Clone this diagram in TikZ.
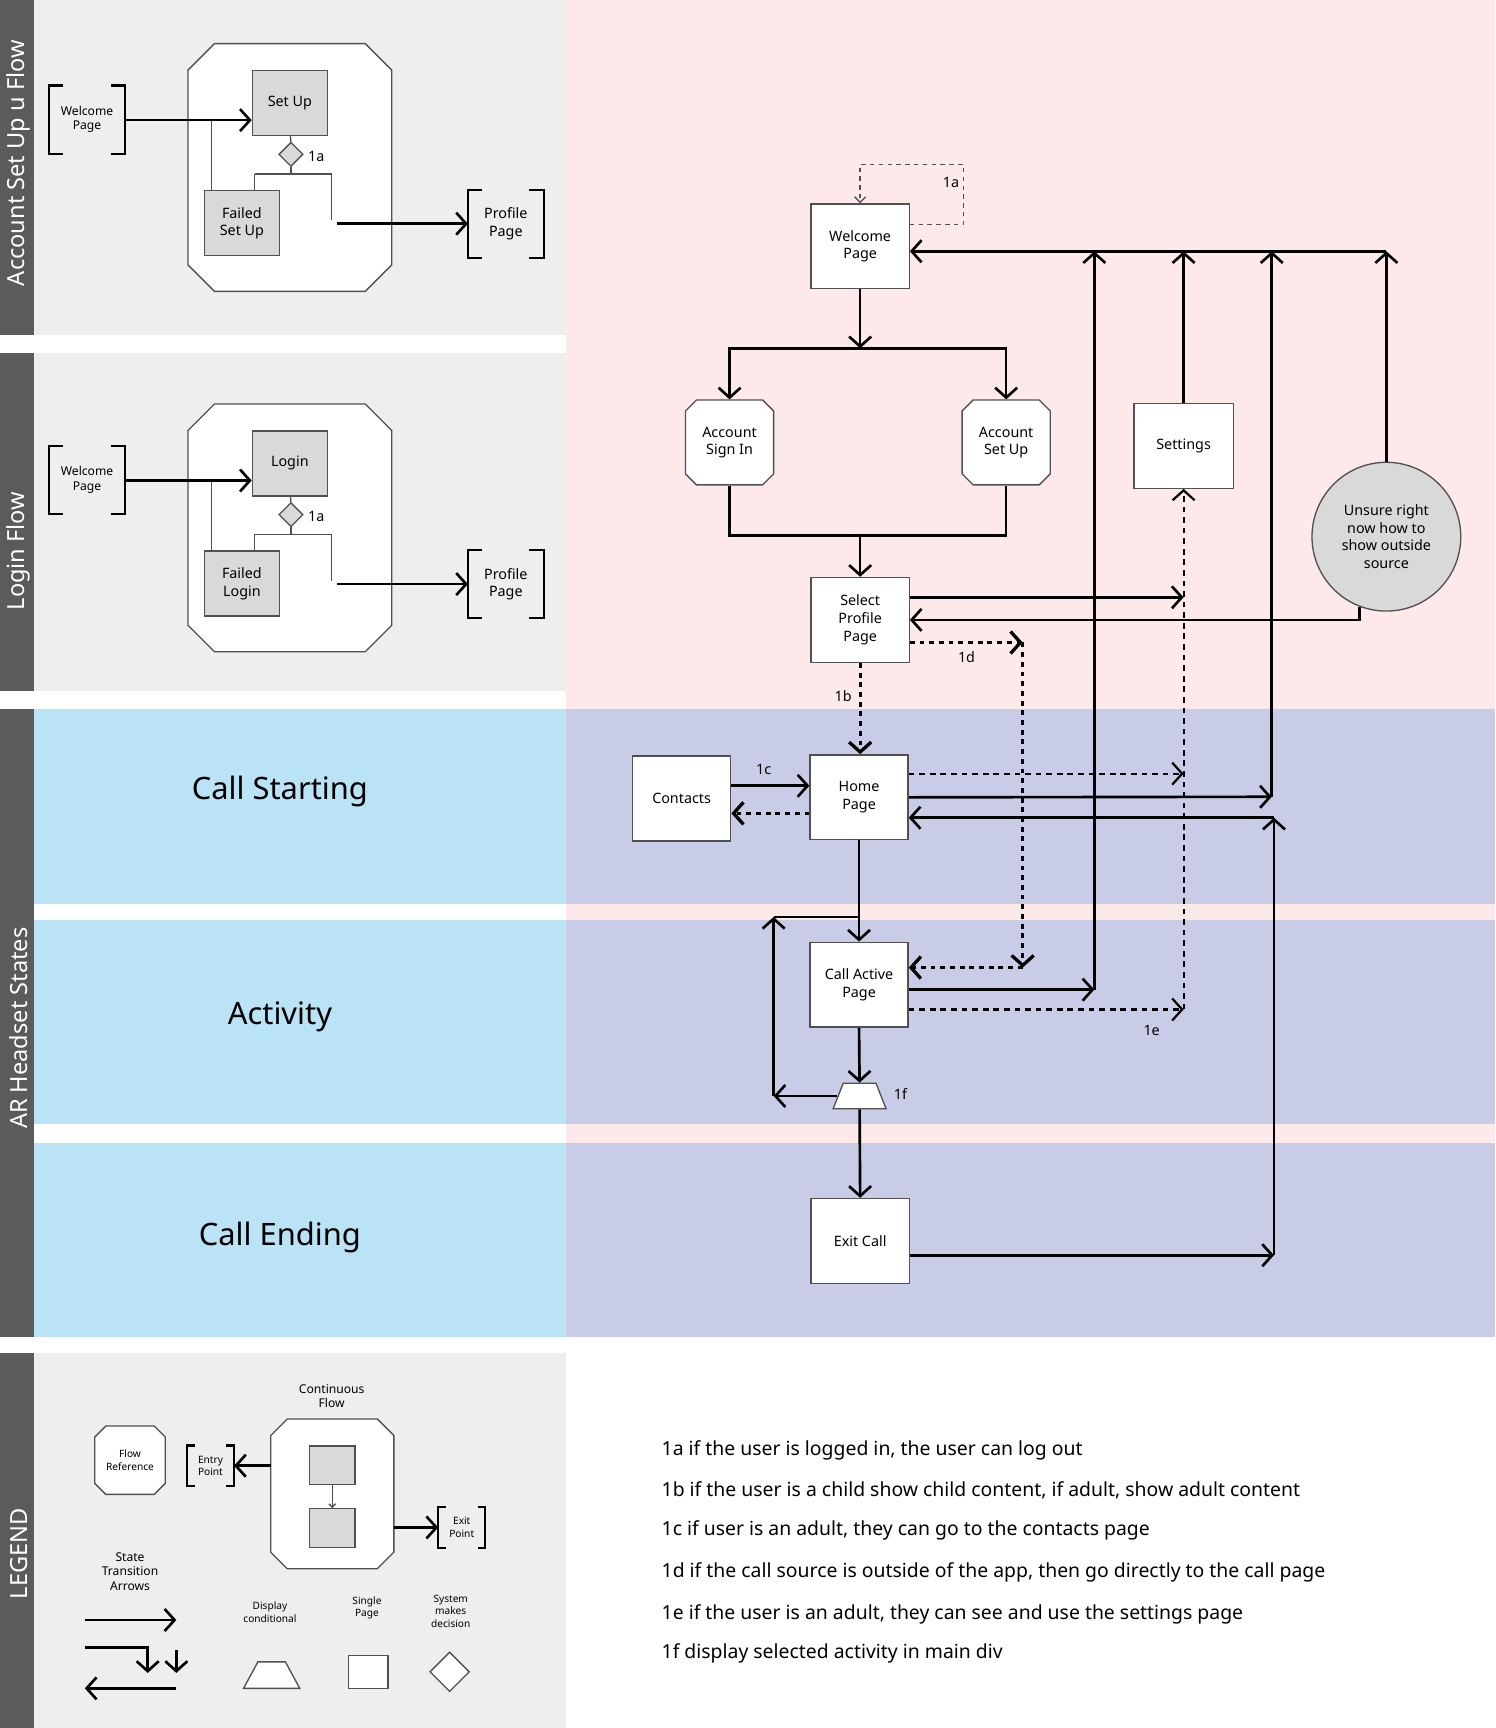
\documentclass[tikz,border=0pt]{standalone}
\usepackage{fontspec}
\setmainfont{Noto Sans}
\usetikzlibrary{arrows.meta,shapes.geometric,shapes.misc,calc}
\definecolor{bg_grey}{HTML}{EEEEEE}
\definecolor{bar_dark}{HTML}{5B5B5B}
\definecolor{bg_pink}{HTML}{FDE9E9}
\definecolor{bg_blue}{HTML}{BAE3F6}
\definecolor{bg_purple}{HTML}{C9CCE6}
\definecolor{box_grey}{HTML}{D9D9D9}
\definecolor{edge_grey}{HTML}{505050}
\newcommand{\fpage}{\fontsize{6.5}{8}\selectfont}
\newcommand{\fsmall}{\fontsize{5.5}{6.6}\selectfont}
\newcommand{\ftiny}{\fontsize{4.6}{5.6}\selectfont}
\newcommand{\fnote}{\fontsize{8.8}{10.5}\selectfont}
\newcommand{\frow}{\fontsize{14}{16.8}\selectfont}
\newcommand{\fbar}{\fontsize{10.7}{12.8}\selectfont}
\newcommand{\drawbrackets}[2]{%
  \draw[line width=1pt] ([xshift=#2]#1.north west) -- (#1.north west) -- (#1.south west) -- ([xshift=#2]#1.south west);
  \draw[line width=1pt] ([xshift=-#2]#1.north east) -- (#1.north east) -- (#1.south east) -- ([xshift=-#2]#1.south east);}
\newcommand{\drawcut}[2]{%
  \draw[draw=edge_grey,fill=white,line width=0.6pt] ([xshift=#2]#1.north west) -- ([xshift=-#2]#1.north east)
    -- ([yshift=-#2]#1.north east) -- ([yshift=#2]#1.south east) -- ([xshift=-#2]#1.south east)
    -- ([xshift=#2]#1.south west) -- ([yshift=#2]#1.south west) -- ([yshift=-#2]#1.north west) -- cycle;}
\tikzstyle{page}=[draw=edge_grey,fill=white,line width=0.6pt,align=center,font=\fpage,
  minimum width=44.5pt,minimum height=38.5pt,inner sep=1pt]
\tikzstyle{flowref}=[page,chamfered rectangle,chamfered rectangle xsep=2.5pt,
  chamfered rectangle ysep=2.5pt,minimum width=40pt]
\tikzstyle{flowstate}=[page,fill=box_grey,minimum width=34pt,minimum height=29.5pt]
\tikzstyle{container}=[inner sep=0pt,minimum width=92pt,minimum height=112pt]
\tikzstyle{bracket}=[align=center,font=\fsmall,minimum width=34pt,minimum height=30.5pt,inner sep=0pt]
\tikzstyle{decide}=[diamond,draw=edge_grey,fill=box_grey,line width=0.6pt,minimum size=11pt,inner sep=0pt]
\tikzstyle{cond}=[trapezium,trapezium stretches=true,draw=edge_grey,fill=white,line width=0.6pt,inner sep=1pt]
\tikzstyle{tag}=[font=\fpage,inner sep=0pt]
\tikzstyle{wire}=[line width=1.2pt]
\tikzstyle{thinline}=[draw=edge_grey,line width=0.6pt]
\tikzstyle{flow}=[line width=1.2pt,-{Straight Barb[length=4.5pt,width=10pt]}]
\tikzstyle{dotflow}=[flow,line width=1.5pt,dash pattern=on 2.2pt off 2.2pt]
\tikzstyle{dashflow}=[flow,line width=1pt,dash pattern=on 2.6pt off 2.2pt]
\tikzstyle{loopflow}=[thinline,dash pattern=on 2pt off 2pt,-{Straight Barb[length=2.5pt,width=5pt]}]
\tikzstyle{barlabel}=[rotate=90,text=white,font=\fbar]
\tikzstyle{rowlabel}=[font=\frow]
\tikzstyle{note}=[font=\fnote,anchor=west,inner sep=0pt]
\tikzstyle{lgtext}=[font=\ftiny,align=center,inner sep=0pt]

\begin{document}
\begin{tikzpicture}[x=0.5pt,y=-0.5pt]
  \useasboundingbox (0,0) rectangle (1357,1568);
  % backgrounds
  \fill[white] (0,0) rectangle (1357,1568);
  \fill[bg_pink] (514,0) rectangle (1357,1213);
  \fill[bg_grey] (31,0) rectangle (514,304);
  \fill[bg_grey] (31,320) rectangle (514,627);
  \fill[bg_grey] (31,1228) rectangle (514,1568);
  \fill[bg_blue] (31,643) rectangle (514,820);
  \fill[bg_blue] (31,835) rectangle (514,1020);
  \fill[bg_blue] (31,1037) rectangle (514,1213);
  \fill[bg_purple] (514,643) rectangle (1357,820);
  \fill[bg_purple] (514,835) rectangle (1357,1020);
  \fill[bg_purple] (514,1037) rectangle (1357,1213);
  \fill[bar_dark] (0,0) rectangle (31,304);
  \fill[bar_dark] (0,320) rectangle (31,627);
  \fill[bar_dark] (0,643) rectangle (31,1213);
  \fill[bar_dark] (0,1228) rectangle (31,1568);
  \node[barlabel] (barsu) at (17,148) {Account Set Up u Flow};
  \node[barlabel] (barli) at (17,500) {Login Flow};
  \node[barlabel] (barar) at (17,933) {AR Headset States};
  \node[barlabel] (barlg) at (17,1410) {LEGEND};
  \node[rowlabel] (rowcs) at (254,718) {Call Starting};
  \node[rowlabel] (rowac) at (254,923) {Activity};
  \node[rowlabel] (rowce) at (254,1123) {Call Ending};

  % account set up flow
  \node[container] (sucont) at (263,152) {};
  \drawcut{sucont}{12pt}
  \node[bracket] (suwel) at (79,108.5) {Welcome\\Page};
  \node[bracket,font=\fpage] (supro) at (459,203) {Profile\\Page};
  \node[flowstate] (suset) at (263,93.5) {Set Up};
  \node[flowstate] (sufail) at (219.5,202.5) {Failed\\Set Up};
  \node[decide] (sudec) at (264,140) {};
  \node[tag] (sutag) at (287,142) {1a};
  \coordinate (suj) at (264,158);
  \coordinate (sul) at (231,158);
  \coordinate (sur) at (301,158);
  \coordinate (sue) at (301,200);
  \coordinate (sub) at (192,109);
  \coordinate (sux) at (306,203);
  \drawbrackets{suwel}{6.5pt}
  \drawbrackets{supro}{6.5pt}
  \draw[thinline] (suset) to (sudec);
  \draw[thinline] (sudec) to (suj);
  \draw[thinline] (sul) to (sur);
  \draw[thinline] (sul) to (sul |- sufail.north);
  \draw[thinline] (sur) to (sue);
  \draw[thinline] (sub) to (sub |- sufail.north);
  \draw[flow] (suwel.east |- sub) to (sub -| suset.west);
  \draw[flow] (sux) to (sux -| supro.west);

  % login flow
  \node[container] (licont) at (263,479) {};
  \drawcut{licont}{12pt}
  \node[bracket] (liwel) at (79,435.5) {Welcome\\Page};
  \node[bracket,font=\fpage] (lipro) at (459,530) {Profile\\Page};
  \node[flowstate] (lilog) at (263,420.5) {Login};
  \node[flowstate] (lifail) at (219.5,529.5) {Failed\\Login};
  \node[decide] (lidec) at (264,467) {};
  \node[tag] (litag) at (287,469) {1a};
  \coordinate (lij) at (264,485);
  \coordinate (lil) at (231,485);
  \coordinate (lir) at (301,485);
  \coordinate (lie) at (301,527);
  \coordinate (lib) at (192,436);
  \coordinate (lix) at (306,530);
  \drawbrackets{liwel}{6.5pt}
  \drawbrackets{lipro}{6.5pt}
  \draw[thinline] (lilog) to (lidec);
  \draw[thinline] (lidec) to (lij);
  \draw[thinline] (lil) to (lir);
  \draw[thinline] (lil) to (lil |- lifail.north);
  \draw[thinline] (lir) to (lie);
  \draw[thinline] (lib) to (lib |- lifail.north);
  \draw[flow] (liwel.east |- lib) to (lib -| lilog.west);
  \draw[flow] (lix) to (lix -| lipro.west);

  % main states
  \node[page] (welcome) at (780.5,223.5) {Welcome\\Page};
  \node[flowref] (signin) at (662,401.5) {Account\\Sign In};
  \node[flowref] (setup) at (913,401.5) {Account\\Set Up};
  \node[page,minimum width=45pt] (settings) at (1074,404.5) {Settings};
  \node[circle,draw=edge_grey,fill=box_grey,line width=0.6pt,minimum size=67.5pt,
    align=center,font=\fpage,inner sep=0pt] (unsure) at (1258,487)
    {Unsure right\\now how to\\show outside\\source};
  \node[page] (select) at (780.5,562.5) {Select\\Profile\\Page};
  \node[page] (contacts) at (618.5,724.5) {Contacts};
  \node[page] (home) at (779.5,723.5) {Home\\Page};
  \node[page] (callactive) at (779.5,893.5) {Call Active\\Page};
  \node[cond,trapezium left angle=73,trapezium right angle=73,
    minimum width=24pt,minimum height=11.5pt] (trap) at (780,994.5) {};
  \node[page] (exitcall) at (780.5,1126) {Exit Call};
  \node[tag] (t1a) at (863,166) {1a};
  \node[tag] (t1b) at (765,632) {1b};
  \node[tag] (t1c) at (693,698) {1c};
  \node[tag] (t1d) at (877,596) {1d};
  \node[tag] (t1e) at (1045,935) {1e};
  \node[tag] (t1f) at (817,993) {1f};
  \coordinate (top) at (993,228);
  \coordinate (split) at (780.5,316);
  \coordinate (join) at (780.5,486);
  \coordinate (loop1a) at (874,149);
  \coordinate (d1) at (928,583);
  \coordinate (d2) at (928,878);
  \coordinate (vhome) at (1154,723);
  \coordinate (vexit) at (1156,742);
  \coordinate (lpt) at (702,832);
  \coordinate (sela) at ([yshift=10.25pt]select.east);
  \coordinate (selc) at ([yshift=-10.25pt]select.east);
  \coordinate (cona) at ([yshift=5.75pt]contacts.east);
  \coordinate (homa) at ([yshift=10.75pt]home.east);
  \coordinate (homc) at ([yshift=-7.25pt]home.west);
  \coordinate (caa) at ([yshift=-2.25pt]callactive.east);
  \coordinate (cab) at ([yshift=-11.25pt]callactive.east);
  \coordinate (exa) at ([yshift=-6.5pt]exitcall.east);
  \draw[loopflow] ([yshift=9.75pt]welcome.east) -| (loop1a) -| (welcome.north);
  \draw[flow] (welcome.south) to (split);
  \draw[flow] (split) -| (signin.north);
  \draw[flow] (split) -| (setup.north);
  \draw[wire] (signin.south) |- (join) -| (setup.south);
  \draw[flow] (join) to (select.north);
  \draw[flow] (sela) to (sela -| settings.south);
  \draw[flow] (unsure.249) |- (select.east);
  \draw[dotflow] (selc) to (d1);
  \draw[dotflow] (d1) to (d2);
  \draw[dotflow] (d2) to (d2 -| callactive.east);
  \draw[dotflow] (select.south) to (select.south |- home.north);
  \draw[flow] (cona) to (cona -| home.west);
  \draw[dotflow] (homc) to (homc -| contacts.east);
  \draw[dashflow] (homa) to (homa -| settings.south);
  \draw[flow] (home.east) to (vhome);
  \draw[flow] (vhome) to (vhome |- top);
  \draw[flow] (home.south) to (callactive.north);
  \draw[wire] (home.south |- lpt) to (lpt);
  \draw[flow] (trap.west -| lpt) to (lpt);
  \draw[flow] (trap.west) to (trap.west -| lpt);
  \draw[flow] (caa) to (caa -| top);
  \draw[flow] (caa -| top) to (top);
  \draw[dashflow] (cab) to (cab -| settings.south);
  \draw[dashflow] (cab -| settings.south) to (settings.south);
  \draw[flow] (settings.north) to (settings.north |- top);
  \draw[flow] (unsure.north) to (unsure.north |- top);
  \draw[flow] (unsure.north |- top) to (top -| welcome.east);
  \draw[flow] (callactive.south) to (trap.north);
  \draw[flow] (trap.south) to (exitcall.north);
  \draw[flow] (exa) to (exa -| vexit);
  \draw[flow] (exa -| vexit) to (vexit);
  \draw[flow] (vexit) to (vexit -| home.east);

  % notes
  \node[note] (n1a) at (600,1316) {1a if the user is logged in, the user can log out};
  \node[note] (n1b) at (600,1352) {1b if the user is a child show child content, if adult, show adult content};
  \node[note] (n1c) at (600,1389) {1c if user is an adult, they can go to the contacts page};
  \node[note] (n1d) at (600,1427) {1d if the call source is outside of the app, then go directly to the call page};
  \node[note] (n1e) at (600,1465) {1e if the user is an adult, they can see and use the settings page};
  \node[note] (n1f) at (600,1500) {1f display selected activity in main div};

  % legend
  \node[lgtext,font=\fsmall] (lgcf) at (301,1267) {Continuous\\Flow};
  \node[flowref,font=\ftiny,minimum width=32pt,minimum height=31pt] (lgref) at (118,1325) {Flow\\Reference};
  \node[bracket,font=\ftiny,minimum width=21pt,minimum height=18pt] (lgentry) at (191,1330) {Entry\\Point};
  \node[bracket,font=\ftiny,minimum width=21pt,minimum height=18pt] (lgexit) at (419,1386) {Exit\\Point};
  \drawbrackets{lgentry}{3.5pt}
  \drawbrackets{lgexit}{3.5pt}
  \node[container,minimum width=55.5pt,minimum height=67.5pt] (lgcont) at (301.5,1355.5) {};
  \drawcut{lgcont}{7.5pt}
  \node[flowstate,minimum width=20.5pt,minimum height=17.5pt] (lgs1) at (301.5,1329.5) {};
  \node[flowstate,minimum width=20.5pt,minimum height=17.5pt] (lgs2) at (301.5,1386.5) {};
  \draw[thinline,-{Straight Barb[length=1.5pt,width=3pt]}] (lgs1) to (lgs2);
  \draw[flow] (lgcont.west |- lgentry) to (lgentry.east);
  \draw[flow] (lgcont.east |- lgexit) to (lgexit.west);
  \node[lgtext,font=\fsmall] (lgst) at (118,1426) {State\\Transition\\Arrows};
  \coordinate (la1) at (77,1470);
  \coordinate (la2) at (160,1470);
  \coordinate (lb1) at (77,1495);
  \coordinate (lb2) at (134,1495);
  \coordinate (lb3) at (134,1518);
  \coordinate (lc1) at (160,1497);
  \coordinate (lc2) at (160,1518);
  \coordinate (ld1) at (160,1532);
  \coordinate (ld2) at (77,1532);
  \draw[flow] (la1) to (la2);
  \draw[flow] (lb1) -| (lb3);
  \draw[flow] (lc1) to (lc2);
  \draw[flow] (ld1) to (ld2);
  \node[lgtext] (lgdc) at (245,1463) {Display\\conditional};
  \node[lgtext] (lgsp) at (333,1459) {Single\\Page};
  \node[lgtext] (lgsm) at (409,1462) {System\\makes\\decision};
  \node[cond,trapezium left angle=62.5,trapezium right angle=62.5,
    minimum width=25.5pt,minimum height=12pt] (lgtr) at (246.5,1520) {};
  \node[page,minimum width=18pt,minimum height=15pt] (lgpage) at (334,1517) {};
  \node[decide,fill=white,minimum size=18pt] (lgdec) at (408,1517) {};
\end{tikzpicture}
\end{document}
